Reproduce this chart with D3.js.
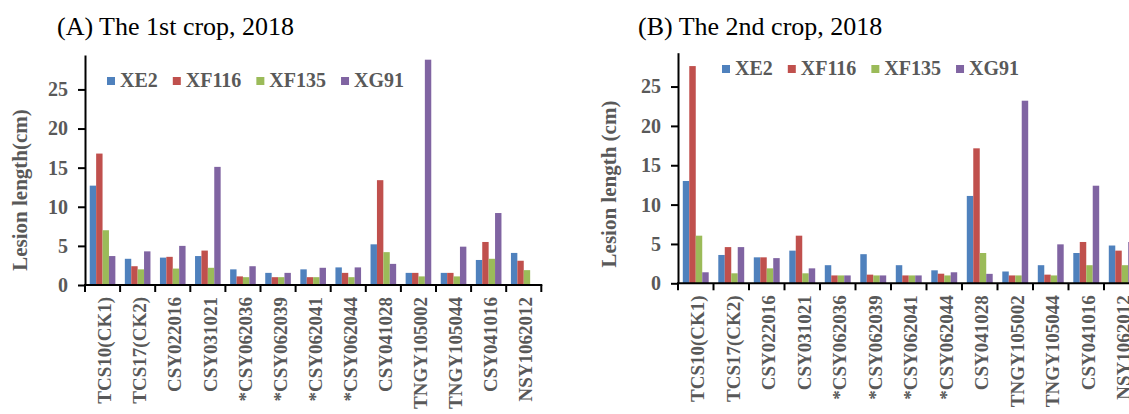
<!DOCTYPE html>
<html lang="en">
<head>
<meta charset="utf-8">
<title>lesion length bars</title>
<script src="https://cdn.jsdelivr.net/npm/d3@7"></script>
<style>
  body { margin: 0; background: #fff; }
  svg text { font-family: "Liberation Serif", "Times New Roman", serif; }
  svg text.heavy { font-weight: bold; fill: #595959; }
</style>
</head>
<body>
<script>
// chart size
var w = 1129, h = 414;

var categories = ["TCS10(CK1)", "TCS17(CK2)", "CSY022016", "CSY031021", "*CSY062036", "*CSY062039",
                  "*CSY062041", "*CSY062044", "CSY041028", "TNGY105002", "TNGY105044", "CSY041016", "NSY1062012"];
var seriesNames = ["XE2", "XF116", "XF135", "XG91"];
var yTicks = [0, 5, 10, 15, 20, 25];

// first crop
var crop1XE2   = [12.7, 3.35, 3.5, 3.7, 2.0, 1.55, 2.0, 2.25, 5.2, 1.55, 1.55, 3.2, 4.1];
var crop1XF116 = [16.8, 2.4, 3.6, 4.4, 1.1, 1.0, 1.0, 1.55, 13.4, 1.55, 1.55, 5.5, 3.1];
var crop1XF135 = [7.0, 2.0, 2.1, 2.2, 1.0, 1.0, 1.0, 1.0, 4.2, 1.1, 1.1, 3.35, 1.9];
var crop1XG91  = [3.7, 4.3, 5.0, 15.1, 2.4, 1.55, 2.2, 2.25, 2.7, 28.8, 4.9, 9.2, 0];

// second crop
var crop2XE2   = [13.0, 3.6, 3.3, 4.15, 2.3, 3.7, 2.3, 1.65, 11.1, 1.5, 2.3, 3.85, 4.8];
var crop2XF116 = [27.6, 4.6, 3.3, 6.05, 1.0, 1.1, 1.0, 1.22, 17.15, 1.0, 1.1, 5.25, 4.15];
var crop2XF135 = [6.05, 1.27, 1.9, 1.27, 1.0, 1.0, 1.0, 1.0, 3.85, 1.0, 1.0, 2.3, 2.3];
var crop2XG91  = [1.4, 4.6, 3.2, 1.9, 1.0, 1.0, 1.0, 1.4, 1.2, 23.2, 4.95, 12.4, 5.25];

var colors = ["#4F81BD", "#C0504D", "#9BBB59", "#8064A2"];

var svg = d3.select("body").append("svg")
    .attr("width", w)
    .attr("height", h);

function drawPanel(cfg) {
    var g = svg.append("g");

    var x0 = d3.scaleBand()
        .domain(categories)
        .range([cfg.left, cfg.left + cfg.step * categories.length])
        .paddingInner(0.27)
        .paddingOuter(0.135);
    var x1 = d3.scaleBand()
        .domain(seriesNames)
        .range([0, x0.bandwidth()]);
    var yScale = d3.scaleLinear()
        .domain([0, cfg.yMax])
        .range([cfg.zeroY, cfg.topY]);
    var color = d3.scaleOrdinal().domain(seriesNames).range(colors);

    // flatten to one record per bar
    var rows = [];
    categories.forEach(function(c, i) {
        seriesNames.forEach(function(s, j) {
            rows.push({cat: c, series: s, value: cfg.series[j][i]});
        });
    });

    g.selectAll("rect.bar")
        .data(rows)
        .enter()
        .append("rect")
        .attr("class", "bar")
        .attr("x", function(d) { return x0(d.cat) + x1(d.series); })
        .attr("width", x1.bandwidth())
        .attr("y", function(d) { return yScale(d.value); })
        .attr("height", function(d) { return yScale(0) - yScale(d.value); })
        .attr("fill", function(d) { return color(d.series); });

    // y axis
    var yAxis = d3.axisLeft(yScale)
        .tickValues(yTicks)
        .tickSize(7)
        .tickSizeOuter(0)
        .tickPadding(10);
    var ya = g.append("g")
        .attr("transform", "translate(" + cfg.left + ",0)")
        .call(yAxis);
    ya.select(".domain").attr("stroke", "#000").attr("stroke-width", 2);
    ya.selectAll(".tick line").attr("stroke", "#000").attr("stroke-width", 2);
    ya.selectAll(".tick text")
        .attr("class", "heavy")
        .style("font-size", "20px");

    // x axis line with ticks between groups
    var half = x0.step() * x0.paddingInner() / 2;
    var bounds = categories.map(function(c) { return x0(c) - half; });
    bounds.push(x0(categories[categories.length - 1]) + x0.bandwidth() + half);

    g.append("line")
        .attr("x1", cfg.left - 1)
        .attr("x2", bounds[bounds.length - 1] + 1)
        .attr("y1", yScale(0))
        .attr("y2", yScale(0))
        .attr("stroke", "#000")
        .attr("stroke-width", 2);
    g.selectAll("line.xtick")
        .data(bounds)
        .enter()
        .append("line")
        .attr("class", "xtick")
        .attr("x1", function(d) { return d; })
        .attr("x2", function(d) { return d; })
        .attr("y1", yScale(0))
        .attr("y2", yScale(0) + 7)
        .attr("stroke", "#000")
        .attr("stroke-width", 2);

    // category labels, rotated
    g.selectAll("text.cat")
        .data(categories)
        .enter()
        .append("text")
        .attr("class", "cat heavy")
        .attr("transform", function(d) {
            return "translate(" + (x0(d) + x0.bandwidth() / 2 + 2) + "," + (yScale(0) + 12) + ") rotate(-90)";
        })
        .attr("text-anchor", "end")
        .attr("dy", "0.35em")
        .style("font-size", "19px")
        .text(function(d) { return d; });

    // y title
    g.append("text")
        .attr("class", "heavy")
        .attr("transform", "translate(" + cfg.titleX + "," + cfg.titleY + ") rotate(-90)")
        .attr("text-anchor", "middle")
        .style("font-size", "21px")
        .text(cfg.yTitle);

    // panel heading
    g.append("text")
        .attr("x", cfg.headX)
        .attr("y", 35)
        .attr("fill", "#000")
        .style("font-size", "26px")
        .text(cfg.heading);

    // legend
    var lx = cfg.legendX;
    seriesNames.forEach(function(s) {
        g.append("rect")
            .attr("x", lx)
            .attr("y", cfg.legendY - 10)
            .attr("width", 8)
            .attr("height", 8)
            .attr("fill", color(s));
        var t = g.append("text")
            .attr("class", "heavy")
            .attr("x", lx + 13)
            .attr("y", cfg.legendY)
            .style("font-size", "20px")
            .text(s);
        lx += 13 + t.node().getComputedTextLength() + 15;
    });
}

drawPanel({
    left: 85, step: 35.1, zeroY: 285, topY: 55, yMax: 29.4,
    series: [crop1XE2, crop1XF116, crop1XF135, crop1XG91],
    yTitle: "Lesion length(cm)", titleX: 27, titleY: 190,
    heading: "(A) The 1st crop, 2018", headX: 57,
    legendX: 107, legendY: 87
});

drawPanel({
    left: 678, step: 35.5, zeroY: 283.3, topY: 52.7, yMax: 29.3,
    series: [crop2XE2, crop2XF116, crop2XF135, crop2XG91],
    yTitle: "Lesion length (cm)", titleX: 616, titleY: 184,
    heading: "(B) The 2nd crop, 2018", headX: 638,
    legendX: 722, legendY: 75
});
</script>
</body>
</html>
